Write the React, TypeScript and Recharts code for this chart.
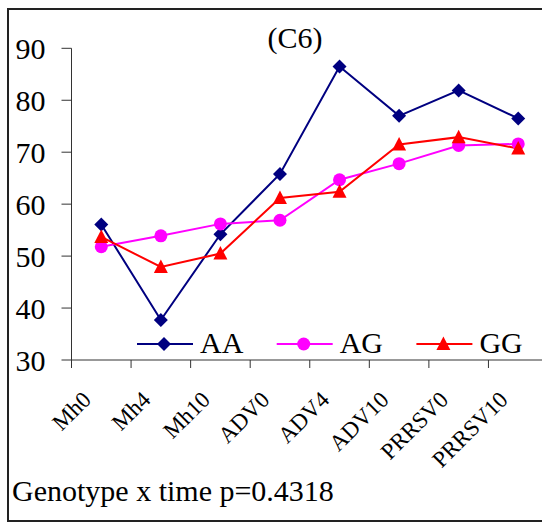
import React from 'react';
import { LineChart, Line, XAxis, YAxis, Legend } from 'recharts';

const categories = ['Mh0', 'Mh4', 'Mh10', 'ADV0', 'ADV4', 'ADV10', 'PRRSV0', 'PRRSV10'];
const aaValues = [56.1, 37.7, 54.2, 65.8, 86.5, 77.0, 81.9, 76.5];
const agValues = [51.8, 53.9, 56.2, 56.9, 64.7, 67.8, 71.3, 71.6];
const ggValues = [53.7, 47.9, 50.5, 61.2, 62.4, 71.5, 72.9, 70.7];
const yTicks = [30, 40, 50, 60, 70, 80, 90];

const data = categories.map((name, i) => ({
  name,
  AA: aaValues[i],
  AG: agValues[i],
  GG: ggValues[i],
}));

const FONT = '"Liberation Serif", "Times New Roman", serif';
const AXIS_COLOR = '#333';
const CHART_W = 600;
const MARGIN = { top: 48.3, right: 52, left: 11.5, bottom: 162 };
const Y_AXIS_W = 60;

const txt = (size: number): React.CSSProperties => ({ fontFamily: FONT, fontSize: size, fill: '#000' });

const series = [
  { key: 'AA', color: '#000080', shape: 'diamond' },
  { key: 'AG', color: '#FF00FF', shape: 'circle' },
  { key: 'GG', color: '#FF0000', shape: 'triangle' },
];

const marker = (shape: string, cx: number, cy: number, color: string, key?: any) => {
  if (shape === 'diamond') {
    return (
      <polygon key={key} points={`${cx},${cy - 7} ${cx + 7},${cy} ${cx},${cy + 7} ${cx - 7},${cy}`} fill={color} />
    );
  }
  if (shape === 'circle') {
    return <circle key={key} cx={cx} cy={cy} r={6.5} fill={color} />;
  }
  return (
    <polygon key={key} points={`${cx},${cy - 7.5} ${cx + 7},${cy + 6} ${cx - 7},${cy + 6}`} fill={color} />
  );
};

const makeDot = (shape: string, color: string) => (props: any) => {
  const { cx, cy, index } = props;
  if (cx == null || cy == null) return <g key={index} />;
  return marker(shape, cx, cy, color, index);
};

// category label plus Excel-style tick marks on the category boundaries
const CategoryTick = (props: any) => {
  const { x, y, payload, index } = props;
  const axisW = typeof props.width === 'number' && props.width > 0
    ? props.width
    : CHART_W - MARGIN.left - MARGIN.right - Y_AXIS_W;
  const half = axisW / categories.length / 2;
  const ax = x - 9;
  const ay = y + 41;
  return (
    <g>
      <line x1={x - half} y1={y} x2={x - half} y2={y + 8} stroke={AXIS_COLOR} />
      {index === categories.length - 1 && (
        <line x1={x + half} y1={y} x2={x + half} y2={y + 8} stroke={AXIS_COLOR} />
      )}
      <text x={ax} y={ay} transform={`rotate(-45, ${ax}, ${ay})`} textAnchor="end" style={txt(23)}>
        {payload.value}
      </text>
    </g>
  );
};

const ValueTick = (props: any) => {
  const { x, y, payload } = props;
  return (
    <text x={x} y={y + 10.5} textAnchor="end" style={txt(30)}>
      {payload.value}
    </text>
  );
};

const LegendContent = (props: any) => {
  const payload = props.payload || [];
  return (
    <svg width={400} height={40} style={{ display: 'block' }}>
      {payload.map((p: any, i: number) => {
        const s = series.find((d) => d.key === p.dataKey) || series[i];
        const x0 = i * 139.7;
        return (
          <g key={s.key}>
            <line x1={x0} y1={20} x2={x0 + 56} y2={20} stroke={s.color} strokeWidth={2} />
            {marker(s.shape, x0 + 27, 20, s.color)}
            <text x={x0 + 63} y={28.5} style={txt(30)}>
              {p.value}
            </text>
          </g>
        );
      })}
    </svg>
  );
};

export default function App() {
  return (
    <div
      style={{
        position: 'absolute',
        left: 0,
        top: 0,
        width: 542,
        height: 523,
        overflow: 'hidden',
        background: '#fff',
      }}
    >
      <div
        style={{
          position: 'absolute',
          left: 7,
          top: 8,
          width: 600,
          height: 514,
          boxSizing: 'border-box',
          border: '2px solid #222',
        }}
      />
      <div style={{ position: 'absolute', left: 0, top: 0 }}>
        <LineChart width={CHART_W} height={523} data={data} margin={MARGIN}>
          <XAxis
            dataKey="name"
            scale="band"
            height={1}
            tickSize={0}
            tickMargin={0}
            tickLine={false}
            interval={0}
            axisLine={{ stroke: AXIS_COLOR }}
            tick={<CategoryTick />}
          />
          <YAxis
            domain={[30, 90]}
            ticks={yTicks}
            width={Y_AXIS_W}
            tickSize={10}
            tickMargin={16}
            axisLine={{ stroke: AXIS_COLOR }}
            tickLine={{ stroke: AXIS_COLOR }}
            tick={<ValueTick />}
          />
          <Legend
            layout="horizontal"
            verticalAlign="middle"
            content={<LegendContent />}
            wrapperStyle={{ position: 'absolute', left: 137, top: 324, width: 400 }}
          />
          {series.map((s) => (
            <Line
              key={s.key}
              dataKey={s.key}
              stroke={s.color}
              strokeWidth={2}
              dot={makeDot(s.shape, s.color)}
              activeDot={false}
              isAnimationActive={false}
            />
          ))}
        </LineChart>
      </div>
      <svg width={542} height={523} style={{ position: 'absolute', left: 0, top: 0, pointerEvents: 'none' }}>
        <text x={295} y={48} textAnchor="middle" style={txt(30)}>
          (C6)
        </text>
        <text x={12} y={501} style={txt(30)}>
          Genotype x time p=0.4318
        </text>
      </svg>
    </div>
  );
}
